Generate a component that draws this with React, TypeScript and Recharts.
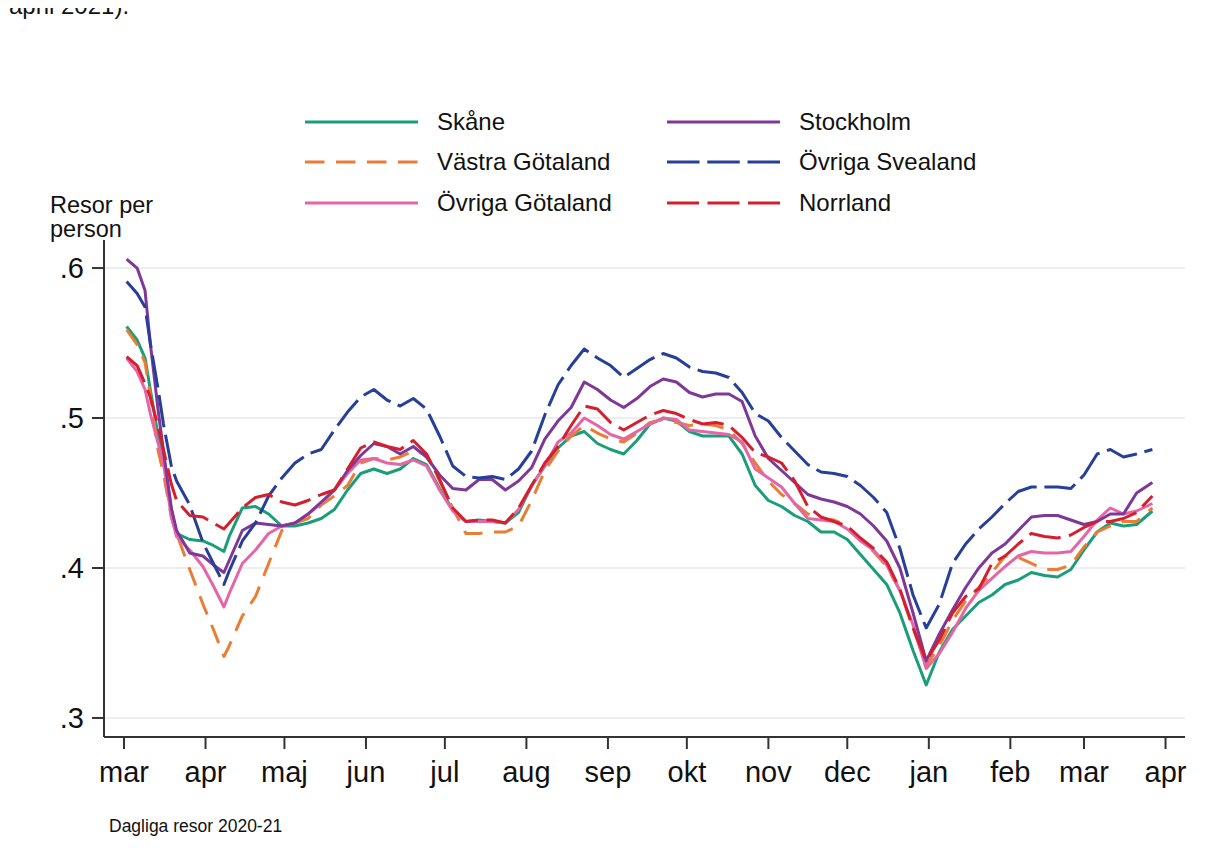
import React from "react";
import { LineChart, Line, XAxis, YAxis, ReferenceLine } from "recharts";

/*
  Dagliga resor per person, mars 2020 - mars 2021, per region.
  x = dagar sedan 1 mars 2020.
*/

const FONT = "'Liberation Sans', Arial, Helvetica, sans-serif";

const days = [
  1, 5, 8, 10, 13, 15, 18, 20, 25, 30, 34, 38, 40, 45, 50, 55, 60, 65, 70, 75,
  80, 85, 90, 95, 100, 105, 110, 115, 120, 125, 130, 135, 140, 145, 150, 155,
  160, 165, 170, 175, 180, 185, 190, 195, 200, 205, 210, 215, 220, 225, 230,
  235, 240, 245, 250, 255, 260, 265, 270, 275, 280, 285, 290, 295, 300, 305,
  310, 315, 320, 325, 330, 335, 340, 345, 350, 355, 360, 365, 370, 375, 380,
  385, 391,
];

const skane = [
  0.561, 0.552, 0.54, 0.519, 0.488, 0.474, 0.439, 0.423, 0.419, 0.418, 0.415, 0.411, 0.421, 0.44, 0.441, 0.436, 0.428, 0.428, 0.43, 0.433,
  0.439, 0.452, 0.463, 0.466, 0.463, 0.466, 0.473, 0.469, 0.453, 0.439, 0.431, 0.432, 0.431, 0.43, 0.437, 0.455,
  0.468, 0.48, 0.488, 0.491, 0.483, 0.479, 0.476, 0.485, 0.496, 0.5, 0.498, 0.491, 0.488, 0.488, 0.488,
  0.476, 0.455, 0.445, 0.441, 0.435, 0.431, 0.424, 0.424, 0.419, 0.409, 0.399, 0.389, 0.37, 0.345, 0.322,
  0.344, 0.359, 0.368, 0.377, 0.382, 0.389, 0.392, 0.397, 0.395, 0.394, 0.399, 0.412, 0.424, 0.43, 0.428,
  0.429, 0.438,
];

const vastraGotaland = [
  0.559, 0.549, 0.537, 0.515, 0.478, 0.463, 0.434, 0.423, 0.399, 0.376, 0.359, 0.341, 0.348, 0.368, 0.381, 0.403, 0.425, 0.43, 0.433, 0.442,
  0.448, 0.455, 0.47, 0.473, 0.472, 0.474, 0.478, 0.476, 0.458, 0.44, 0.423, 0.423, 0.424, 0.424, 0.428, 0.445,
  0.465, 0.478, 0.488, 0.495, 0.49, 0.486, 0.484, 0.49, 0.497, 0.499, 0.497, 0.495, 0.496, 0.495, 0.492,
  0.483, 0.47, 0.458, 0.449, 0.443, 0.436, 0.433, 0.432, 0.428, 0.419, 0.411, 0.401, 0.385, 0.36, 0.335,
  0.348, 0.365, 0.378, 0.387, 0.397, 0.408, 0.407, 0.403, 0.399, 0.399, 0.402, 0.414, 0.424, 0.428, 0.431,
  0.431, 0.44,
];

const ovrigaGotaland = [
  0.54, 0.531, 0.519, 0.503, 0.483, 0.47, 0.434, 0.421, 0.412, 0.401, 0.388, 0.374, 0.383, 0.403, 0.412, 0.423, 0.428, 0.43, 0.436, 0.443,
  0.452, 0.463, 0.472, 0.473, 0.47, 0.469, 0.472, 0.468, 0.452, 0.438, 0.431, 0.431, 0.431, 0.43, 0.439, 0.455,
  0.468, 0.484, 0.49, 0.5, 0.495, 0.489, 0.486, 0.491, 0.496, 0.5, 0.499, 0.492, 0.491, 0.49, 0.489,
  0.484, 0.466, 0.46, 0.454, 0.443, 0.433, 0.432, 0.431, 0.426, 0.418, 0.412, 0.402, 0.385, 0.362, 0.333,
  0.343, 0.357, 0.373, 0.385, 0.393, 0.401, 0.408, 0.411, 0.41, 0.41, 0.411, 0.421, 0.432, 0.44, 0.436,
  0.438, 0.443,
];

const stockholm = [
  0.606, 0.6, 0.585, 0.55, 0.505, 0.478, 0.44, 0.425, 0.41, 0.408, 0.402, 0.397, 0.405, 0.425, 0.43, 0.429, 0.428, 0.43, 0.436, 0.444,
  0.452, 0.465, 0.475, 0.483, 0.481, 0.476, 0.481, 0.474, 0.462, 0.453, 0.452, 0.459, 0.459, 0.452, 0.458, 0.467,
  0.486, 0.498, 0.507, 0.524, 0.519, 0.512, 0.507, 0.513, 0.521, 0.526, 0.524, 0.517, 0.514, 0.516, 0.516,
  0.511, 0.488, 0.473, 0.465, 0.457, 0.449, 0.446, 0.444, 0.441, 0.436, 0.428, 0.418, 0.4, 0.37, 0.338,
  0.356, 0.372, 0.387, 0.4, 0.41, 0.416, 0.425, 0.434, 0.435, 0.435, 0.432, 0.429, 0.431, 0.436, 0.436,
  0.45, 0.457,
];

const ovrigaSvealand = [
  0.591, 0.583, 0.574, 0.55, 0.519, 0.496, 0.468, 0.458, 0.442, 0.417, 0.403, 0.389, 0.398, 0.418, 0.43, 0.448, 0.46, 0.47, 0.476, 0.479,
  0.492, 0.504, 0.514, 0.519, 0.512, 0.508, 0.513, 0.506, 0.488, 0.468, 0.461, 0.46, 0.461, 0.459, 0.466, 0.478,
  0.502, 0.522, 0.535, 0.546, 0.54, 0.535, 0.527, 0.533, 0.539, 0.543, 0.54, 0.534, 0.531, 0.53, 0.527,
  0.517, 0.503, 0.498, 0.487, 0.478, 0.469, 0.464, 0.463, 0.461, 0.455, 0.447, 0.437, 0.413, 0.382, 0.36,
  0.376, 0.403, 0.416, 0.426, 0.434, 0.443, 0.451, 0.454, 0.454, 0.454, 0.453, 0.462, 0.476, 0.479, 0.474,
  0.476, 0.479,
];

const norrland = [
  0.541, 0.535, 0.523, 0.514, 0.494, 0.479, 0.456, 0.445, 0.435, 0.434, 0.43, 0.426, 0.43, 0.44, 0.447, 0.449, 0.444, 0.442, 0.445, 0.449,
  0.452, 0.466, 0.48, 0.484, 0.481, 0.479, 0.485, 0.476, 0.459, 0.44, 0.431, 0.432, 0.432, 0.43, 0.44, 0.455,
  0.47, 0.481, 0.495, 0.508, 0.506, 0.497, 0.492, 0.497, 0.502, 0.505, 0.503, 0.499, 0.496, 0.497, 0.495,
  0.487, 0.477, 0.474, 0.47, 0.458, 0.441, 0.434, 0.431, 0.428, 0.42, 0.413, 0.404, 0.386, 0.36, 0.338,
  0.352, 0.37, 0.381, 0.386, 0.403, 0.408, 0.416, 0.423, 0.421, 0.42, 0.422, 0.427, 0.431, 0.431, 0.433,
  0.437, 0.448,
];

/* month starts, in days since 1 mars 2020 */
const monthTicks = [0, 31, 61, 92, 122, 153, 184, 214, 245, 275, 306, 337, 365, 396];
const monthLabels = ["mar", "apr", "maj", "jun", "jul", "aug", "sep", "okt", "nov", "dec", "jan", "feb", "mar", "apr"];
const yTicks = [0.3, 0.4, 0.5, 0.6];

const SERIES = [
  { key: "skane", name: "Skåne", color: "#1a9e7a", dash: undefined },
  { key: "vastra", name: "Västra Götaland", color: "#ea7d34", dash: "19.5 11.5" },
  { key: "ovrGot", name: "Övriga Götaland", color: "#e466a6", dash: undefined },
  { key: "sthlm", name: "Stockholm", color: "#7e3897", dash: undefined },
  { key: "ovrSvea", name: "Övriga Svealand", color: "#263f98", dash: "32.5 7.75" },
  { key: "norr", name: "Norrland", color: "#d51f2e", dash: "32 8.5" },
];

const rows = days.map((d, i) => ({
  day: d,
  skane: skane[i],
  vastra: vastraGotaland[i],
  ovrGot: ovrigaGotaland[i],
  sthlm: stockholm[i],
  ovrSvea: ovrigaSvealand[i],
  norr: norrland[i],
}));

/* legend: two columns, three rows (same order as the original) */
const legendLayout = [
  { s: 0, col: 0, row: 0 },
  { s: 1, col: 0, row: 1 },
  { s: 2, col: 0, row: 2 },
  { s: 3, col: 1, row: 0 },
  { s: 4, col: 1, row: 1 },
  { s: 5, col: 1, row: 2 },
];
const rowY = [114, 154, 195];
const colX = [297, 659];

export default function App() {
  return (
    <div style={{ position: "relative", width: 1207, height: 834, fontFamily: FONT, background: "#fff", color: "#111" }}>
      {/* cut-off line of text above the figure */}
      <div style={{ position: "absolute", left: 1, top: -14, fontSize: 24, lineHeight: 1, whiteSpace: "nowrap" }}>
        april 2021).
      </div>

      {/* legend */}
      {legendLayout.map(({ s, col, row }) => {
        const ser = SERIES[s];
        return (
          <div key={ser.key}>
            <svg
              width={113}
              height={6}
              style={{ position: "absolute", left: colX[col], top: rowY[row] - 3 }}
            >
              <line x1={0} y1={3} x2={113} y2={3} stroke={ser.color} strokeWidth={3} strokeDasharray={ser.dash} />
            </svg>
            <div
              style={{
                position: "absolute",
                left: colX[col] + 132,
                top: rowY[row] - 12,
                fontSize: 24,
                lineHeight: 1,
                whiteSpace: "nowrap",
              }}
            >
              {ser.name}
            </div>
          </div>
        );
      })}

      {/* y axis title */}
      <div style={{ position: "absolute", left: 42, top: 185, fontSize: 23.5, lineHeight: "24px" }}>
        Resor per
        <br />
        person
      </div>

      <LineChart width={1207} height={834} data={rows} margin={{ top: 232, right: 30, left: 36, bottom: 55 }}>
        {/* horizontal grid lines at the y ticks */}
        {yTicks.map((t) => (
          <ReferenceLine key={t} y={t} stroke="#e9e9e9" strokeWidth={1.5} ifOverflow="visible" />
        ))}
        <XAxis
          dataKey="day"
          type="number"
          domain={[-7.6, 403.4]}
          ticks={monthTicks}
          interval={0}
          tickFormatter={(v) => monthLabels[monthTicks.indexOf(v)]}
          height={50}
          tickSize={12}
          tickMargin={12}
          axisLine={{ stroke: "#333", strokeWidth: 2 }}
          tickLine={{ stroke: "#333", strokeWidth: 2 }}
          tick={{ fontSize: 29, fill: "#111", fontFamily: FONT }}
        />
        <YAxis
          type="number"
          domain={[0.2873, 0.6187]}
          ticks={yTicks}
          interval={0}
          tickFormatter={(v) => "." + Math.round(v * 10)}
          width={60}
          tickSize={12}
          tickMargin={8}
          axisLine={{ stroke: "#333", strokeWidth: 2 }}
          tickLine={{ stroke: "#333", strokeWidth: 2 }}
          tick={{ fontSize: 29, fill: "#111", fontFamily: FONT }}
        />
        {SERIES.map((ser) => (
          <Line
            key={ser.key}
            dataKey={ser.key}
            name={ser.name}
            type="linear"
            stroke={ser.color}
            strokeWidth={3}
            strokeDasharray={ser.dash}
            strokeLinejoin="round"
            dot={false}
            activeDot={false}
            isAnimationActive={false}
          />
        ))}
      </LineChart>

      {/* note under the chart */}
      <div style={{ position: "absolute", left: 101, top: 810, fontSize: 17.5, lineHeight: 1, whiteSpace: "nowrap" }}>
        Dagliga resor 2020-21
      </div>
    </div>
  );
}
